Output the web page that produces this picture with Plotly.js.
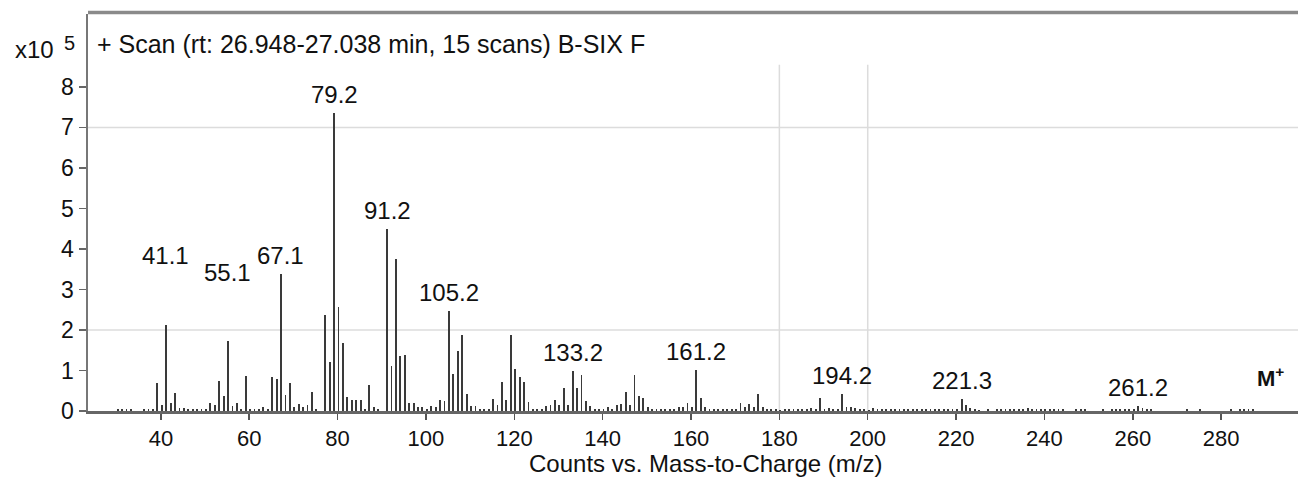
<!DOCTYPE html>
<html>
<head>
<meta charset="utf-8">
<script src="https://cdn.plot.ly/plotly-3.0.1.min.js"></script>
<style>html,body{margin:0;padding:0;background:#fff;}#chart{width:1298px;height:479px;}</style>
</head>
<body>
<div id="chart"></div>
<script>
// m/z positions and intensities (units of 1e5 counts)
const mz = [
  30.2,31.2,32.2,33.2,36.2,37.2,38.2,39.2,40.2,41.1,42.2,43.2,44.2,45.2,46.2,47.2,48.2,49.2,50.2,
  51.2,52.2,53.2,54.2,55.1,56.2,57.2,58.2,59.2,60.2,61.2,62.2,63.2,64.2,
  65.2,66.2,67.1,68.2,69.2,70.2,71.2,72.2,73.2,74.2,75.2,
  77.2,78.2,79.2,80.2,81.2,82.2,83.2,84.2,85.2,86.2,87.2,88.2,89.2,
  91.2,92.2,93.2,94.2,95.2,96.2,97.2,98.2,99.2,100.2,101.2,102.2,103.2,104.2,
  105.2,106.2,107.2,108.2,109.2,110.2,111.2,112.2,113.2,114.2,115.2,116.2,117.2,118.2,119.2,120.2,121.2,122.2,123.2,124.2,125.2,126.2,127.2,128.2,129.2,130.2,
  131.2,132.2,133.2,134.2,135.2,136.2,137.2,138.2,139.2,140.2,141.2,142.2,143.2,144.2,145.2,146.2,147.2,148.2,149.2,150.2,
  151.2,152.2,153.2,154.2,155.2,156.2,157.2,158.2,159.2,160.2,161.2,162.2,163.2,164.2,165.2,166.2,167.2,168.2,169.2,170.2,
  171.2,172.2,173.2,174.2,175.2,176.2,177.2,178.2,179.2,180.2,181.2,182.2,183.2,184.2,185.2,186.2,187.2,188.2,189.2,190.2,
  191.2,192.2,193.2,194.2,195.2,196.2,197.2,198.2,199.2,200.2,201.2,202.2,203.2,204.2,205.2,206.2,207.2,208.2,209.2,210.2,
  211.2,212.2,213.2,214.2,215.2,216.2,217.2,218.2,219.2,220.2,221.3,222.2,223.2,224.2,225.2,227.2,229.2,230.2,231.2,232.2,
  233.2,234.2,235.2,236.2,237.2,238.2,239.2,240.2,241.2,242.2,243.2,244.2,247.2,248.2,249.2,253.2,255.2,256.2,257.2,258.2,
  259.2,260.2,261.2,262.2,263.2,264.2,272.2,275.2,282.2,284.2,285.2,286.2,287.2
];
const intensity = [
  0.04,0.04,0.04,0.04,0.04,0.04,0.06,0.68,0.14,2.13,0.20,0.45,0.08,0.07,0.05,0.04,0.04,0.04,0.06,
  0.20,0.14,0.73,0.36,1.72,0.13,0.20,0.04,0.86,0.05,0.05,0.06,0.10,0.05,
  0.84,0.80,3.38,0.40,0.69,0.10,0.18,0.10,0.15,0.46,0.06,
  2.36,1.21,7.35,2.57,1.68,0.34,0.28,0.26,0.26,0.05,0.63,0.10,0.06,
  4.50,1.12,3.75,1.35,1.38,0.20,0.20,0.10,0.10,0.06,0.13,0.10,0.26,0.25,
  2.47,0.92,1.47,1.87,0.43,0.12,0.12,0.06,0.06,0.06,0.30,0.15,0.71,0.28,1.87,1.04,0.84,0.71,0.22,0.06,0.06,0.06,0.12,0.15,0.28,0.15,
  0.56,0.16,0.98,0.56,0.88,0.25,0.12,0.06,0.05,0.05,0.10,0.05,0.15,0.17,0.46,0.15,0.90,0.37,0.33,0.10,
  0.05,0.05,0.04,0.04,0.05,0.06,0.10,0.10,0.20,0.10,1.00,0.33,0.10,0.05,0.05,0.04,0.05,0.05,0.06,0.05,
  0.20,0.10,0.17,0.10,0.43,0.10,0.04,0.05,0.04,0.03,0.04,0.05,0.04,0.06,0.05,0.04,0.08,0.04,0.33,0.05,
  0.08,0.04,0.05,0.43,0.10,0.10,0.07,0.04,0.04,0.03,0.08,0.04,0.04,0.05,0.04,0.04,0.05,0.04,0.05,0.04,
  0.05,0.04,0.05,0.04,0.05,0.04,0.05,0.04,0.05,0.06,0.30,0.15,0.08,0.04,0.03,0.04,0.04,0.05,0.04,0.05,
  0.04,0.06,0.05,0.07,0.05,0.04,0.05,0.04,0.04,0.05,0.04,0.04,0.05,0.04,0.04,0.04,0.04,0.05,0.04,0.04,
  0.05,0.06,0.12,0.07,0.05,0.04,0.04,0.04,0.04,0.05,0.04,0.04,0.04
];
// labelled peaks
const peakLabels = ["41.1","55.1","67.1","79.2","91.2","105.2","133.2","161.2","194.2","221.3","261.2"];
const peakMz = [41.1,55.1,67.1,79.2,91.2,105.2,133.2,161.2,194.2,221.3,261.2];
const xTicks = [40,60,80,100,120,140,160,180,200,220,240,260,280];
const yTicks = [0,1,2,3,4,5,6,7,8];
const titleText = "+ Scan (rt: 26.948-27.038 min, 15 scans) B-SIX F";
const xTitle = "Counts vs. Mass-to-Charge (m/z)";

const FONT = "Liberation Sans, Arial, Helvetica, sans-serif";
const labelShift = {"41.1":54, "55.1":53};

const annotations = peakMz.map((m, i) => {
  const idx = mz.indexOf(m);
  const v = idx >= 0 ? intensity[idx] : 0.1;
  return {x: m, y: v, xref: 'x', yref: 'y', text: peakLabels[i], showarrow: false,
    yanchor: 'bottom', xanchor: 'center', yshift: labelShift[peakLabels[i]] || 3,
    font: {family: FONT, size: 24, color: '#111'}};
});
annotations.push({xref:'paper', yref:'paper', x:(95-88)/1210, y:(411-44)/397, xanchor:'left', yanchor:'middle',
  text: titleText, showarrow:false, font:{family:FONT, size:25, color:'#111'}});
annotations.push({xref:'paper', yref:'paper', x:(56-88)/1210, y:(411-50)/397, xanchor:'right', yanchor:'middle',
  text: 'x10', showarrow:false, font:{family:FONT, size:24, color:'#111'}});
annotations.push({xref:'paper', yref:'paper', x:(62-88)/1210, y:(411-43)/397, xanchor:'left', yanchor:'middle',
  text: '5', showarrow:false, font:{family:FONT, size:20, color:'#111'}});
annotations.push({xref:'paper', yref:'paper', x:(705-88)/1210, y:(411-479)/397, xanchor:'center', yanchor:'bottom',
  text: xTitle, showarrow:false, font:{family:FONT, size:24, color:'#111'}});
annotations.push({xref:'paper', yref:'paper', x:(1270-88)/1210, y:(411-377)/397, xanchor:'center', yanchor:'middle',
  text: '<b>M<sup>+</sup></b>', showarrow:false, font:{family:FONT, size:22, color:'#111'}});

const gridColor = '#dcdcdc';
const shapes = [
  {type:'line', xref:'paper', yref:'y', x0:0, x1:1, y0:7, y1:7, line:{color:gridColor, width:1.5}, layer:'below'},
  {type:'line', xref:'paper', yref:'y', x0:0, x1:1, y0:2, y1:2, line:{color:gridColor, width:1.5}, layer:'below'},
  {type:'line', xref:'x', yref:'y', x0:180, x1:180, y0:0, y1:8.55, line:{color:gridColor, width:1.5}, layer:'below'},
  {type:'line', xref:'x', yref:'y', x0:200, x1:200, y0:0, y1:8.55, line:{color:gridColor, width:1.5}, layer:'below'},
  {type:'line', xref:'paper', yref:'paper', x0:0, x1:1, y0:1.004, y1:1.004, line:{color:'#8a8a8a', width:3.5}}
];

const trace = {type:'bar', x: mz, y: intensity, width: 0.42,
  marker:{color:'#3a3a3a', line:{width:0}}, hoverinfo:'x+y'};

const layout = {
  width:1298, height:479,
  margin:{l:88, r:0, t:14, b:68, pad:0},
  paper_bgcolor:'#fff', plot_bgcolor:'#fff',
  showlegend:false,
  font:{family:FONT, size:22, color:'#111'},
  xaxis:{range:[23.5,297.4], tickvals:xTicks, ticktext:xTicks.map(String), ticks:'outside', ticklen:6, tickwidth:1.5,
    tickcolor:'#555', showline:true, linecolor:'#666', linewidth:3, showgrid:false, zeroline:false,
    tickfont:{family:FONT, size:22, color:'#111'}},
  yaxis:{range:[0,9.8], tickvals:yTicks, ticktext:yTicks.map(String), ticks:'outside', ticklen:7, tickwidth:1.5,
    tickcolor:'#666', showline:true, linecolor:'#777', linewidth:2.5, showgrid:false, zeroline:false,
    tickfont:{family:FONT, size:23, color:'#111'}},
  bargap:0,
  annotations: annotations,
  shapes: shapes
};
Plotly.newPlot('chart', [trace], layout, {displayModeBar:false, staticPlot:true});
</script>
</body>
</html>
